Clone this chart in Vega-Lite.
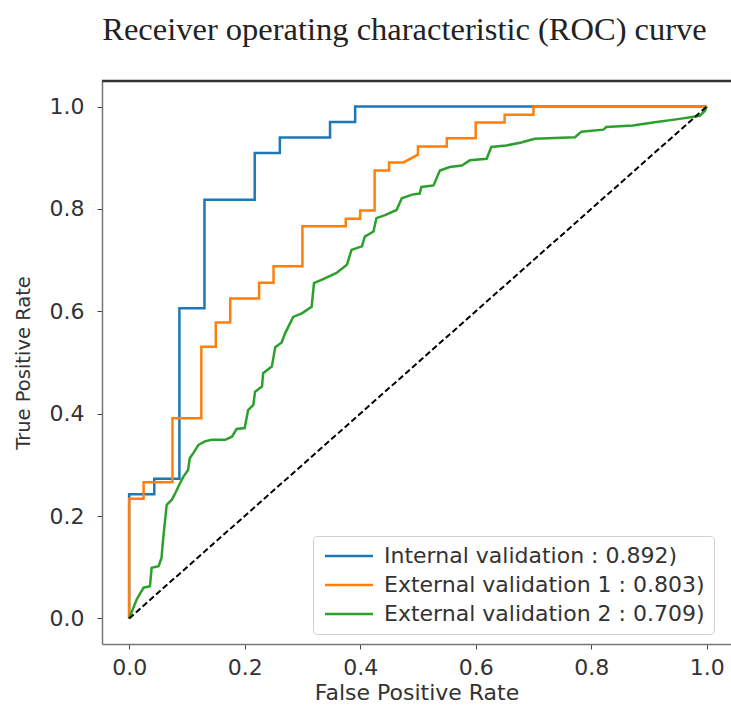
{
  "$schema": "https://vega.github.io/schema/vega-lite/v6.json",
  "width": 629,
  "height": 563,
  "autosize": {"type": "none"},
  "padding": {"left": 102, "top": 81, "right": 0, "bottom": 64},
  "background": "white",
  "title": {"text": "Receiver operating characteristic (ROC) curve", "font": "Liberation Serif", "fontSize": 32.5, "fontWeight": "normal", "color": "#222222", "anchor": "middle", "frame": "group", "dx": -12, "offset": 33},
  "config": {
    "view": {"stroke": null},
    "axis": {"grid": false, "labelFont": "DejaVu Sans", "labelColor": "#333333", "titleFont": "DejaVu Sans", "titleFontWeight": "normal", "titleColor": "#333333", "tickColor": "#444444", "tickSize": 5, "domainColor": "#777777", "domainWidth": 1.5}
  },
  "datasets": {
    "roc": [
      {"m": "Internal validation : 0.892)", "i": 0, "fpr": 0, "tpr": 0},
      {"m": "Internal validation : 0.892)", "i": 1, "fpr": 0, "tpr": 0.2424},
      {"m": "Internal validation : 0.892)", "i": 2, "fpr": 0.0435, "tpr": 0.2424},
      {"m": "Internal validation : 0.892)", "i": 3, "fpr": 0.0435, "tpr": 0.2727},
      {"m": "Internal validation : 0.892)", "i": 4, "fpr": 0.087, "tpr": 0.2727},
      {"m": "Internal validation : 0.892)", "i": 5, "fpr": 0.087, "tpr": 0.6061},
      {"m": "Internal validation : 0.892)", "i": 6, "fpr": 0.1304, "tpr": 0.6061},
      {"m": "Internal validation : 0.892)", "i": 7, "fpr": 0.1304, "tpr": 0.8182},
      {"m": "Internal validation : 0.892)", "i": 8, "fpr": 0.2174, "tpr": 0.8182},
      {"m": "Internal validation : 0.892)", "i": 9, "fpr": 0.2174, "tpr": 0.9091},
      {"m": "Internal validation : 0.892)", "i": 10, "fpr": 0.2609, "tpr": 0.9091},
      {"m": "Internal validation : 0.892)", "i": 11, "fpr": 0.2609, "tpr": 0.9394},
      {"m": "Internal validation : 0.892)", "i": 12, "fpr": 0.3478, "tpr": 0.9394},
      {"m": "Internal validation : 0.892)", "i": 13, "fpr": 0.3478, "tpr": 0.9697},
      {"m": "Internal validation : 0.892)", "i": 14, "fpr": 0.3913, "tpr": 0.9697},
      {"m": "Internal validation : 0.892)", "i": 15, "fpr": 0.3913, "tpr": 1},
      {"m": "Internal validation : 0.892)", "i": 16, "fpr": 1, "tpr": 1},

      {"m": "External validation 1 : 0.803)", "i": 0, "fpr": 0, "tpr": 0},
      {"m": "External validation 1 : 0.803)", "i": 1, "fpr": 0, "tpr": 0.234},
      {"m": "External validation 1 : 0.803)", "i": 2, "fpr": 0.025, "tpr": 0.234},
      {"m": "External validation 1 : 0.803)", "i": 3, "fpr": 0.025, "tpr": 0.266},
      {"m": "External validation 1 : 0.803)", "i": 4, "fpr": 0.075, "tpr": 0.266},
      {"m": "External validation 1 : 0.803)", "i": 5, "fpr": 0.075, "tpr": 0.391},
      {"m": "External validation 1 : 0.803)", "i": 6, "fpr": 0.125, "tpr": 0.391},
      {"m": "External validation 1 : 0.803)", "i": 7, "fpr": 0.125, "tpr": 0.531},
      {"m": "External validation 1 : 0.803)", "i": 8, "fpr": 0.15, "tpr": 0.531},
      {"m": "External validation 1 : 0.803)", "i": 9, "fpr": 0.15, "tpr": 0.578},
      {"m": "External validation 1 : 0.803)", "i": 10, "fpr": 0.175, "tpr": 0.578},
      {"m": "External validation 1 : 0.803)", "i": 11, "fpr": 0.175, "tpr": 0.625},
      {"m": "External validation 1 : 0.803)", "i": 12, "fpr": 0.225, "tpr": 0.625},
      {"m": "External validation 1 : 0.803)", "i": 13, "fpr": 0.225, "tpr": 0.656},
      {"m": "External validation 1 : 0.803)", "i": 14, "fpr": 0.25, "tpr": 0.656},
      {"m": "External validation 1 : 0.803)", "i": 15, "fpr": 0.25, "tpr": 0.688},
      {"m": "External validation 1 : 0.803)", "i": 16, "fpr": 0.3, "tpr": 0.688},
      {"m": "External validation 1 : 0.803)", "i": 17, "fpr": 0.3, "tpr": 0.766},
      {"m": "External validation 1 : 0.803)", "i": 18, "fpr": 0.375, "tpr": 0.766},
      {"m": "External validation 1 : 0.803)", "i": 19, "fpr": 0.375, "tpr": 0.781},
      {"m": "External validation 1 : 0.803)", "i": 20, "fpr": 0.4, "tpr": 0.781},
      {"m": "External validation 1 : 0.803)", "i": 21, "fpr": 0.4, "tpr": 0.797},
      {"m": "External validation 1 : 0.803)", "i": 22, "fpr": 0.425, "tpr": 0.797},
      {"m": "External validation 1 : 0.803)", "i": 23, "fpr": 0.425, "tpr": 0.875},
      {"m": "External validation 1 : 0.803)", "i": 24, "fpr": 0.45, "tpr": 0.875},
      {"m": "External validation 1 : 0.803)", "i": 25, "fpr": 0.45, "tpr": 0.891},
      {"m": "External validation 1 : 0.803)", "i": 26, "fpr": 0.475, "tpr": 0.891},
      {"m": "External validation 1 : 0.803)", "i": 27, "fpr": 0.5, "tpr": 0.906},
      {"m": "External validation 1 : 0.803)", "i": 28, "fpr": 0.5, "tpr": 0.922},
      {"m": "External validation 1 : 0.803)", "i": 29, "fpr": 0.55, "tpr": 0.922},
      {"m": "External validation 1 : 0.803)", "i": 30, "fpr": 0.55, "tpr": 0.938},
      {"m": "External validation 1 : 0.803)", "i": 31, "fpr": 0.6, "tpr": 0.938},
      {"m": "External validation 1 : 0.803)", "i": 32, "fpr": 0.6, "tpr": 0.969},
      {"m": "External validation 1 : 0.803)", "i": 33, "fpr": 0.65, "tpr": 0.969},
      {"m": "External validation 1 : 0.803)", "i": 34, "fpr": 0.65, "tpr": 0.984},
      {"m": "External validation 1 : 0.803)", "i": 35, "fpr": 0.7, "tpr": 0.984},
      {"m": "External validation 1 : 0.803)", "i": 36, "fpr": 0.7, "tpr": 1},
      {"m": "External validation 1 : 0.803)", "i": 37, "fpr": 1, "tpr": 1},

      {"m": "External validation 2 : 0.709)", "i": 0, "fpr": 0, "tpr": 0},
      {"m": "External validation 2 : 0.709)", "i": 1, "fpr": 0.013, "tpr": 0.037},
      {"m": "External validation 2 : 0.709)", "i": 2, "fpr": 0.025, "tpr": 0.06},
      {"m": "External validation 2 : 0.709)", "i": 3, "fpr": 0.036, "tpr": 0.063},
      {"m": "External validation 2 : 0.709)", "i": 4, "fpr": 0.039, "tpr": 0.099},
      {"m": "External validation 2 : 0.709)", "i": 5, "fpr": 0.051, "tpr": 0.102},
      {"m": "External validation 2 : 0.709)", "i": 6, "fpr": 0.056, "tpr": 0.118},
      {"m": "External validation 2 : 0.709)", "i": 7, "fpr": 0.059, "tpr": 0.157},
      {"m": "External validation 2 : 0.709)", "i": 8, "fpr": 0.065, "tpr": 0.222},
      {"m": "External validation 2 : 0.709)", "i": 9, "fpr": 0.074, "tpr": 0.232},
      {"m": "External validation 2 : 0.709)", "i": 10, "fpr": 0.08, "tpr": 0.245},
      {"m": "External validation 2 : 0.709)", "i": 11, "fpr": 0.088, "tpr": 0.264},
      {"m": "External validation 2 : 0.709)", "i": 12, "fpr": 0.094, "tpr": 0.277},
      {"m": "External validation 2 : 0.709)", "i": 13, "fpr": 0.102, "tpr": 0.29},
      {"m": "External validation 2 : 0.709)", "i": 14, "fpr": 0.105, "tpr": 0.313},
      {"m": "External validation 2 : 0.709)", "i": 15, "fpr": 0.111, "tpr": 0.323},
      {"m": "External validation 2 : 0.709)", "i": 16, "fpr": 0.12, "tpr": 0.339},
      {"m": "External validation 2 : 0.709)", "i": 17, "fpr": 0.131, "tpr": 0.346},
      {"m": "External validation 2 : 0.709)", "i": 18, "fpr": 0.143, "tpr": 0.349},
      {"m": "External validation 2 : 0.709)", "i": 19, "fpr": 0.166, "tpr": 0.349},
      {"m": "External validation 2 : 0.709)", "i": 20, "fpr": 0.178, "tpr": 0.355},
      {"m": "External validation 2 : 0.709)", "i": 21, "fpr": 0.186, "tpr": 0.37},
      {"m": "External validation 2 : 0.709)", "i": 22, "fpr": 0.2, "tpr": 0.372},
      {"m": "External validation 2 : 0.709)", "i": 23, "fpr": 0.206, "tpr": 0.407},
      {"m": "External validation 2 : 0.709)", "i": 24, "fpr": 0.215, "tpr": 0.417},
      {"m": "External validation 2 : 0.709)", "i": 25, "fpr": 0.218, "tpr": 0.443},
      {"m": "External validation 2 : 0.709)", "i": 26, "fpr": 0.23, "tpr": 0.453},
      {"m": "External validation 2 : 0.709)", "i": 27, "fpr": 0.232, "tpr": 0.479},
      {"m": "External validation 2 : 0.709)", "i": 28, "fpr": 0.247, "tpr": 0.492},
      {"m": "External validation 2 : 0.709)", "i": 29, "fpr": 0.253, "tpr": 0.53},
      {"m": "External validation 2 : 0.709)", "i": 30, "fpr": 0.264, "tpr": 0.539},
      {"m": "External validation 2 : 0.709)", "i": 31, "fpr": 0.27, "tpr": 0.557},
      {"m": "External validation 2 : 0.709)", "i": 32, "fpr": 0.284, "tpr": 0.589},
      {"m": "External validation 2 : 0.709)", "i": 33, "fpr": 0.299, "tpr": 0.596},
      {"m": "External validation 2 : 0.709)", "i": 34, "fpr": 0.316, "tpr": 0.609},
      {"m": "External validation 2 : 0.709)", "i": 35, "fpr": 0.32, "tpr": 0.655},
      {"m": "External validation 2 : 0.709)", "i": 36, "fpr": 0.336, "tpr": 0.663},
      {"m": "External validation 2 : 0.709)", "i": 37, "fpr": 0.359, "tpr": 0.675},
      {"m": "External validation 2 : 0.709)", "i": 38, "fpr": 0.377, "tpr": 0.691},
      {"m": "External validation 2 : 0.709)", "i": 39, "fpr": 0.385, "tpr": 0.72},
      {"m": "External validation 2 : 0.709)", "i": 40, "fpr": 0.403, "tpr": 0.727},
      {"m": "External validation 2 : 0.709)", "i": 41, "fpr": 0.408, "tpr": 0.746},
      {"m": "External validation 2 : 0.709)", "i": 42, "fpr": 0.423, "tpr": 0.756},
      {"m": "External validation 2 : 0.709)", "i": 43, "fpr": 0.428, "tpr": 0.782},
      {"m": "External validation 2 : 0.709)", "i": 44, "fpr": 0.443, "tpr": 0.788},
      {"m": "External validation 2 : 0.709)", "i": 45, "fpr": 0.463, "tpr": 0.798},
      {"m": "External validation 2 : 0.709)", "i": 46, "fpr": 0.472, "tpr": 0.821},
      {"m": "External validation 2 : 0.709)", "i": 47, "fpr": 0.49, "tpr": 0.828},
      {"m": "External validation 2 : 0.709)", "i": 48, "fpr": 0.503, "tpr": 0.83},
      {"m": "External validation 2 : 0.709)", "i": 49, "fpr": 0.506, "tpr": 0.843},
      {"m": "External validation 2 : 0.709)", "i": 50, "fpr": 0.527, "tpr": 0.846},
      {"m": "External validation 2 : 0.709)", "i": 51, "fpr": 0.538, "tpr": 0.875},
      {"m": "External validation 2 : 0.709)", "i": 52, "fpr": 0.555, "tpr": 0.882},
      {"m": "External validation 2 : 0.709)", "i": 53, "fpr": 0.576, "tpr": 0.885},
      {"m": "External validation 2 : 0.709)", "i": 54, "fpr": 0.59, "tpr": 0.895},
      {"m": "External validation 2 : 0.709)", "i": 55, "fpr": 0.619, "tpr": 0.898},
      {"m": "External validation 2 : 0.709)", "i": 56, "fpr": 0.627, "tpr": 0.921},
      {"m": "External validation 2 : 0.709)", "i": 57, "fpr": 0.653, "tpr": 0.924},
      {"m": "External validation 2 : 0.709)", "i": 58, "fpr": 0.679, "tpr": 0.93},
      {"m": "External validation 2 : 0.709)", "i": 59, "fpr": 0.702, "tpr": 0.937},
      {"m": "External validation 2 : 0.709)", "i": 60, "fpr": 0.772, "tpr": 0.94},
      {"m": "External validation 2 : 0.709)", "i": 61, "fpr": 0.783, "tpr": 0.951},
      {"m": "External validation 2 : 0.709)", "i": 62, "fpr": 0.821, "tpr": 0.955},
      {"m": "External validation 2 : 0.709)", "i": 63, "fpr": 0.826, "tpr": 0.96},
      {"m": "External validation 2 : 0.709)", "i": 64, "fpr": 0.872, "tpr": 0.963},
      {"m": "External validation 2 : 0.709)", "i": 65, "fpr": 0.907, "tpr": 0.969},
      {"m": "External validation 2 : 0.709)", "i": 66, "fpr": 0.953, "tpr": 0.976},
      {"m": "External validation 2 : 0.709)", "i": 67, "fpr": 0.988, "tpr": 0.982},
      {"m": "External validation 2 : 0.709)", "i": 68, "fpr": 0.997, "tpr": 0.992},
      {"m": "External validation 2 : 0.709)", "i": 69, "fpr": 1, "tpr": 1}
    ],
    "diag": [{"fpr": 0, "tpr": 0}, {"fpr": 1, "tpr": 1}],
    "frame": [{"top": 1.05}]
  },
  "layer": [
    {
      "data": {"name": "roc"},
      "mark": {"type": "line", "strokeWidth": 2.5, "clip": true},
      "encoding": {
        "x": {"field": "fpr", "type": "quantitative", "scale": {"domain": [-0.047, 1.042], "nice": false, "zero": false},
          "axis": {"values": [0, 0.2, 0.4, 0.6, 0.8, 1.0], "format": ".1f", "labelFontSize": 22, "labelPadding": 8, "title": "False Positive Rate", "titleFontSize": 22, "titlePadding": 4}},
        "y": {"field": "tpr", "type": "quantitative", "scale": {"domain": [-0.05, 1.05], "nice": false, "zero": false},
          "axis": {"values": [0, 0.2, 0.4, 0.6, 0.8, 1.0], "format": ".1f", "labelFontSize": 22, "labelPadding": 13, "title": "True Positive Rate", "titleFontSize": 19.5, "titlePadding": 16}},
        "color": {"field": "m", "type": "nominal",
          "scale": {"domain": ["Internal validation : 0.892)", "External validation 1 : 0.803)", "External validation 2 : 0.709)"], "range": ["#1f77b4", "#ff7f0e", "#2ca02c"]},
          "legend": {"orient": "none", "legendX": 211, "legendY": 455, "title": null, "labelFont": "DejaVu Sans", "labelFontSize": 22, "labelColor": "#333333", "labelLimit": 500, "symbolType": "M-4.8,0H4.8", "symbolSize": 100, "symbolStrokeWidth": 2.5, "symbolOffset": 16, "labelOffset": 24, "padding": 9, "rowPadding": 7, "fillColor": "white", "strokeColor": "#d0d0d0", "cornerRadius": 4}},
        "order": {"field": "i", "type": "quantitative"}
      }
    },
    {
      "data": {"name": "diag"},
      "mark": {"type": "line", "color": "black", "strokeDash": [6, 3], "strokeWidth": 2},
      "encoding": {"x": {"field": "fpr", "type": "quantitative"}, "y": {"field": "tpr", "type": "quantitative"}}
    },
    {
      "data": {"name": "frame"},
      "mark": {"type": "rule", "color": "#333333", "strokeWidth": 2.5},
      "encoding": {"y": {"field": "top", "type": "quantitative"}}
    }
  ]
}
